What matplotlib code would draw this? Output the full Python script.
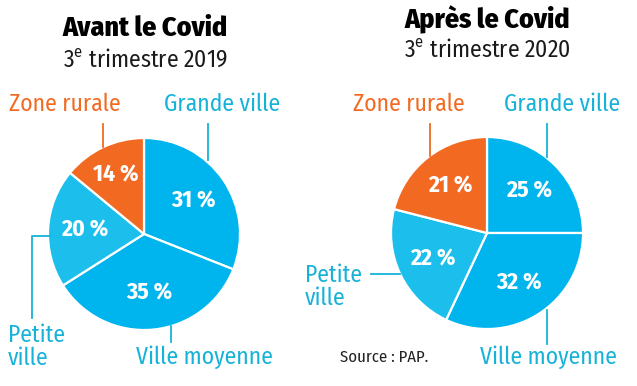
import numpy as np
import matplotlib.pyplot as plt

plt.rcParams['font.family'] = ['Fira Sans Condensed', 'DejaVu Sans']

categories = ["Grande ville", "Ville moyenne", "Petite ville", "Zone rurale"]
avant = [31, 35, 20, 14]
apres = [25, 32, 22, 21]
titles = ["Avant le Covid", "Après le Covid"]
subtitles = ["3$^{\\mathregular{e}}$ trimestre 2019", "3$^{\\mathregular{e}}$ trimestre 2020"]

blue = "#00b4ee"
blue2 = "#1cbfec"
orange = "#f26a22"
txt_blue = "#16b2d8"
colors = [blue, blue, blue2, orange]

fig = plt.figure(figsize=(6.37, 3.86), dpi=100)
ax = fig.add_axes([0, 0, 1, 1])

centers = [(144, 234), (487, 233)]
R = 96

for vals, (cx, cy) in zip([avant, apres], centers):
    wedges, _ = ax.pie(vals, colors=colors, startangle=-90, counterclock=True,
                       center=(cx, cy), radius=R,
                       wedgeprops=dict(edgecolor="white", linewidth=1.6))
    for w, v in zip(wedges, vals):
        mid = np.deg2rad((w.theta1 + w.theta2) / 2)
        d = 0.62 if v > 15 else 0.68
        ax.text(cx + d * R * np.cos(mid), cy + d * R * np.sin(mid), f"{v} %",
                color="white", fontsize=17, fontweight="bold",
                ha="center", va="center")

# titles
ax.text(145, 28, titles[0], fontsize=20, fontweight="heavy", ha="center", va="center")
ax.text(145, 60, subtitles[0], fontsize=17, ha="center", va="center", color="#1a1a1a")
ax.text(487, 20, titles[1], fontsize=20, fontweight="heavy", ha="center", va="center")
ax.text(487, 50, subtitles[1], fontsize=17, ha="center", va="center", color="#1a1a1a")

lw = 1.3
fs = 17
# left leaders and labels
ax.text(65, 104, "Zone rurale", color=orange, fontsize=fs, ha="center", va="center")
ax.plot([103, 103], [124, 147], color=orange, lw=lw)
ax.text(222, 104, "Grande ville", color=txt_blue, fontsize=fs, ha="center", va="center")
ax.plot([208, 208], [124, 160], color=txt_blue, lw=lw)
ax.plot([50, 32, 32], [236, 236, 318], color=txt_blue, lw=lw)
ax.text(8, 347, "Petite\nville", color=txt_blue, fontsize=fs, ha="left", va="center", linespacing=1.0)
ax.plot([171, 171], [326, 342], color=txt_blue, lw=lw)
ax.text(204, 357, "Ville moyenne", color=txt_blue, fontsize=fs, ha="center", va="center")

# right leaders and labels
ax.text(409, 104, "Zone rurale", color=orange, fontsize=fs, ha="center", va="center")
ax.plot([430, 430], [124, 156], color=orange, lw=lw)
ax.text(562, 104, "Grande ville", color=txt_blue, fontsize=fs, ha="center", va="center")
ax.plot([547, 547], [124, 157], color=txt_blue, lw=lw)
ax.text(305, 287, "Petite\nville", color=txt_blue, fontsize=fs, ha="left", va="center", linespacing=1.0)
ax.plot([371, 400], [274, 274], color=txt_blue, lw=lw)
ax.plot([547, 547], [310, 344], color=txt_blue, lw=lw)
ax.text(548, 357, "Ville moyenne", color=txt_blue, fontsize=fs, ha="center", va="center")
ax.text(340, 357, "Source : PAP.", color="#222222", fontsize=12, ha="left", va="center")

ax.set_xlim(0, 637)
ax.set_ylim(386, 0)
ax.set_aspect("auto")
ax.axis("off")

fig.savefig("out.png", dpi=100)
